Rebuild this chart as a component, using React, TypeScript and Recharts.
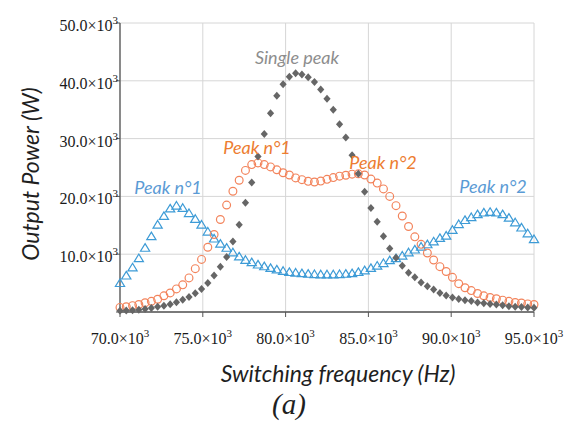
import { ScatterChart, Scatter, XAxis, YAxis, CartesianGrid } from "recharts";

// sweep grid: 67 samples from 70 kHz to 95 kHz
const freqStep = 25000 / 66;
const frequencies = Array.from({ length: 67 }, (_, i) => 70000 + i * freqStep);

// output power, in kW
const singlePeak = [
  0.2, 0.25, 0.3, 0.4, 0.5, 0.7, 0.9, 1.1, 1.35, 1.7, 2.1, 2.6, 3.25, 4.0, 5.0, 6.3, 7.85,
  9.5, 12.2, 15.1, 18.9, 22.4, 26.9, 30.8, 34.4, 37.4, 39.4, 40.7, 41.3, 41.1, 40.6, 39.8,
  38.5, 36.9, 35.0, 32.5, 30.2, 27.1, 23.9, 20.8, 18.0, 15.6, 13.1, 11.0, 9.4, 8.0, 6.8,
  6.0, 5.1, 4.45, 3.9, 3.3, 2.85, 2.5, 2.25, 2.05, 1.9, 1.65, 1.5, 1.4, 1.3, 1.15, 1.0,
  0.9, 0.85, 0.8, 0.75,
];

const closePeaks = [
  0.8, 0.9, 1.1, 1.3, 1.6, 1.85, 2.2, 2.8, 3.3, 4.0, 4.7, 5.9, 7.5, 9.1, 11.2, 13.4, 16.0,
  18.5, 20.9, 22.8, 24.5, 25.5, 25.8, 25.5, 25.1, 24.6, 24.1, 23.7, 23.2, 22.9, 22.6, 22.5,
  22.65, 22.95, 23.25, 23.5, 23.65, 23.85, 23.9, 23.7, 23.0, 22.3, 21.3, 20.0, 18.4, 16.6,
  14.8, 13.0, 11.7, 10.2, 9.0, 7.85, 7.0, 6.0, 4.9, 4.2, 3.7, 3.2, 2.8, 2.5, 2.3, 2.05,
  1.85, 1.65, 1.55, 1.4, 1.3,
];

const farPeaks = [
  5.0, 6.3, 7.7, 9.3, 11.1, 13.1, 15.1, 16.6, 17.9, 18.4, 18.0, 17.1, 16.1, 15.1, 13.9,
  12.7, 11.8, 11.1, 10.3, 9.6, 9.0, 8.6, 8.2, 7.9, 7.6, 7.35, 7.1, 6.9, 6.8, 6.7, 6.6, 6.55,
  6.5, 6.5, 6.5, 6.55, 6.6, 6.7, 6.9, 7.2, 7.6, 8.0, 8.45, 8.95, 9.3, 9.75, 10.3, 10.8,
  11.3, 11.7, 12.2, 12.8, 13.2, 14.2, 15.2, 15.9, 16.4, 16.9, 17.2, 17.3, 17.2, 16.9, 16.3,
  15.5, 14.6, 13.6, 12.6,
];

const xTicks = [70000, 75000, 80000, 85000, 90000, 95000];
const yTicks = [0, 10000, 20000, 30000, 40000, 50000];

const toRows = (vals: number[]) => vals.map((v, i) => ({ f: frequencies[i], p: v * 1000 }));
const singleData = toRows(singlePeak);
const closeData = toRows(closePeaks);
const farData = toRows(farPeaks);

const serif = "'Liberation Serif', 'Times New Roman', serif";
const sans = "Lato, 'Open Sans', sans-serif";

const sci = (v: number) => (v / 1000).toFixed(1) + "\u00d710";

function XTick(props: any) {
  const { x, y, payload } = props;
  return (
    <text x={x} y={y + 25} textAnchor="middle" fontFamily={serif} fontSize={16} fill="#1a1a1a">
      <tspan>{sci(payload.value)}</tspan>
      <tspan dy={-7} fontSize={11}>3</tspan>
    </text>
  );
}

function YTick(props: any) {
  const { x, y, payload } = props;
  if (payload.value === 0) return <g />;
  return (
    <text x={x + 4} y={y + 8} textAnchor="end" fontFamily={serif} fontSize={16} fill="#1a1a1a">
      <tspan>{sci(payload.value)}</tspan>
      <tspan dy={-7} fontSize={11}>3</tspan>
    </text>
  );
}

const Diamond = (props: any) => {
  const { cx, cy } = props;
  return (
    <path
      d={`M${cx},${cy - 4} L${cx + 3.6},${cy} L${cx},${cy + 4} L${cx - 3.6},${cy} Z`}
      fill="#666666"
    />
  );
};

const Ring = (props: any) => {
  const { cx, cy } = props;
  return <circle cx={cx} cy={cy} r={3.9} fill="none" stroke="#f3845c" strokeWidth={1.2} />;
};

const Triangle = (props: any) => {
  const { cx, cy } = props;
  return (
    <path
      d={`M${cx},${cy - 4.2} L${cx + 4.6},${cy + 3.4} L${cx - 4.6},${cy + 3.4} Z`}
      fill="none"
      stroke="#3d9bd6"
      strokeWidth={1.2}
    />
  );
};

const note = (color: string, size = 16) => ({
  position: "absolute" as const,
  fontFamily: sans,
  fontStyle: "italic",
  fontSize: size,
  color,
  whiteSpace: "nowrap" as const,
  transform: "translate(-50%, -50%)",
  lineHeight: 1,
});

export default function App() {
  return (
    <div style={{ position: "absolute", left: 0, top: 0, width: 570, height: 424, background: "#fff" }}>
      <ScatterChart width={570} height={424} margin={{ top: 23, right: 36, bottom: 0, left: 0 }}>
        <CartesianGrid stroke="#d6d6d6" strokeWidth={1} />
        <XAxis
          type="number"
          dataKey="f"
          domain={[70000, 95000]}
          ticks={xTicks}
          height={112}
          tick={<XTick />}
          tickSize={5}
          axisLine={{ stroke: "#555", strokeWidth: 1.3 }}
          tickLine={{ stroke: "#555" }}
        />
        <YAxis
          type="number"
          dataKey="p"
          domain={[0, 50000]}
          ticks={yTicks}
          width={120}
          tick={<YTick />}
          tickSize={4}
          axisLine={{ stroke: "#555", strokeWidth: 1.3 }}
          tickLine={{ stroke: "#555" }}
        />
        <Scatter data={farData} shape={<Triangle />} isAnimationActive={false} />
        <Scatter data={closeData} shape={<Ring />} isAnimationActive={false} />
        <Scatter data={singleData} shape={<Diamond />} isAnimationActive={false} />
      </ScatterChart>

      <div style={{ ...note("#8d8d8d", 18), left: 297, top: 57 }}>Single peak</div>
      <div style={{ ...note("#ed7d31", 18), left: 257, top: 147 }}>Peak n°1</div>
      <div style={{ ...note("#ed7d31", 18), left: 383, top: 162 }}>Peak n°2</div>
      <div style={{ ...note("#5b9bd5", 18), left: 168, top: 187 }}>Peak n°1</div>
      <div style={{ ...note("#5b9bd5", 18), left: 493, top: 186 }}>Peak n°2</div>

      <div
        style={{
          ...note("#1f1f1f", 23),
          left: 30,
          top: 174,
          transform: "translate(-50%, -50%) rotate(-90deg)",
        }}
      >
        Output Power (W)
      </div>
      <div style={{ ...note("#1f1f1f", 23), left: 338, top: 373 }}>Switching frequency (Hz)</div>
      <div
        style={{
          ...note("#1f1f1f", 29),
          fontFamily: serif,
          left: 289,
          top: 404,
        }}
      >
        (a)
      </div>
    </div>
  );
}
